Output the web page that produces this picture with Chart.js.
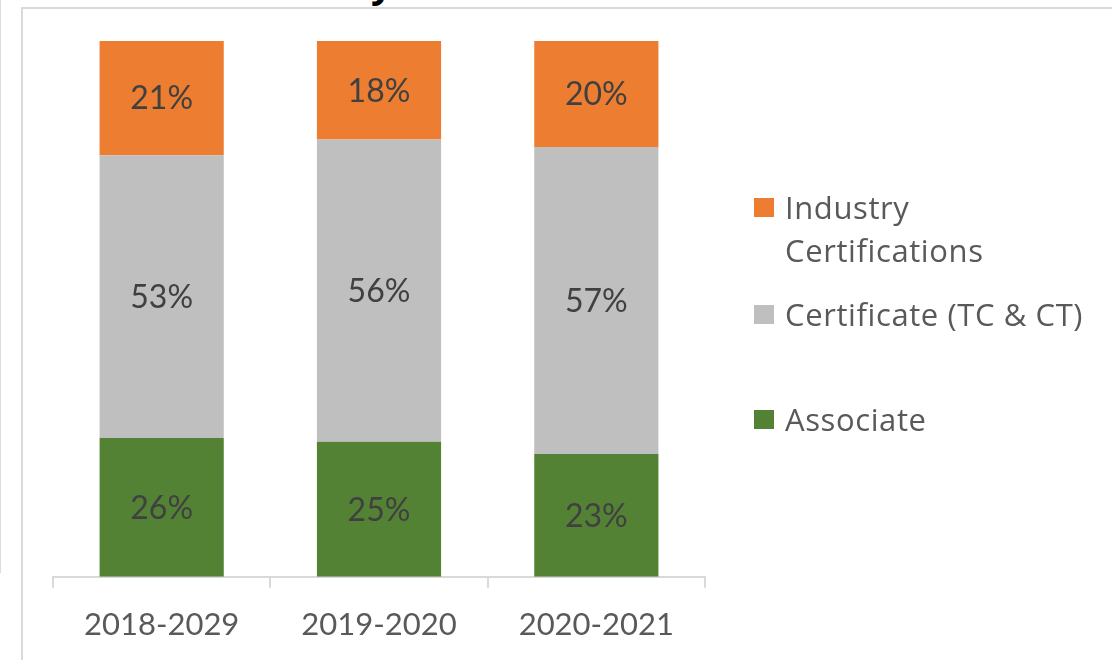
<!DOCTYPE html>
<html>
<head>
<meta charset="utf-8">
<script src="https://cdn.jsdelivr.net/npm/chart.js@4.4.1/dist/chart.umd.min.js"></script>
<style>
  html, body { margin: 0; padding: 0; background: #fff; }
  body { width: 1112px; height: 660px; position: relative; overflow: hidden; font-family: Lato, "Open Sans", sans-serif; }
  #leftline { position: absolute; left: 0; top: 0; width: 1px; height: 573px; background: #dcdcdc; }
  #frame { position: absolute; left: 21px; top: 7px; width: 1200px; height: 800px; border: 2px solid #d9d9d9; box-sizing: border-box; }
  #titlefrag { position: absolute; left: 371px; top: -44px; font: bold 38px "Open Sans", sans-serif; color: #000; }
  #wrap { position: absolute; left: 0; top: 0; width: 1112px; height: 665px; }
  .leg { position: absolute; left: 754px; color: #595959; font-family: "Open Sans", sans-serif; font-size: 31px; letter-spacing: 0.6px; line-height: 43px; }
  .leg .box { position: absolute; left: 0; width: 20px; height: 19px; }
  .leg .txt { position: absolute; left: 31px; white-space: nowrap; }
</style>
</head>
<body>
<div id="leftline"></div>
<div id="frame"></div>
<div id="titlefrag">y</div>
<div id="wrap"><canvas id="c" width="1112" height="665"></canvas></div>
<div id="legend"></div>
<script>
const categories = ["2018-2029", "2019-2020", "2020-2021"];
const seriesNames = ["Associate", "Certificate (TC & CT)", "Industry Certifications"];
const associate = [25.9, 25.2, 22.9];
const certificate = [52.8, 56.4, 57.3];
const industry = [21.3, 18.4, 19.8];
const colors = ["#548235", "#BFBFBF", "#ED7D31"];

const labelPlugin = {
  id: 'segLabels',
  afterDatasetsDraw(chart) {
    const ctx = chart.ctx;
    ctx.save();
    ctx.font = '32px Lato, "Open Sans", sans-serif';
    ctx.fillStyle = '#404040';
    ctx.textAlign = 'center';
    ctx.textBaseline = 'middle';
    chart.data.datasets.forEach((ds, i) => {
      chart.getDatasetMeta(i).data.forEach((bar, j) => {
        const y = (bar.y + bar.base) / 2 + 1;
        ctx.fillText(Math.round(ds.data[j]) + '%', bar.x, y);
      });
    });
    ctx.restore();
  }
};

new Chart(document.getElementById('c'), {
  type: 'bar',
  data: {
    labels: categories,
    datasets: [
      { label: seriesNames[0], data: associate, backgroundColor: colors[0] },
      { label: seriesNames[1], data: certificate, backgroundColor: colors[1] },
      { label: seriesNames[2], data: industry, backgroundColor: colors[2] }
    ]
  },
  options: {
    responsive: false,
    animation: false,
    devicePixelRatio: 1,
    layout: { padding: { left: 53, top: 41, right: 407, bottom: 2 } },
    datasets: { bar: { categoryPercentage: 1, barPercentage: 0.5714 } },
    plugins: { legend: { display: false }, tooltip: { enabled: false } },
    scales: {
      x: {
        stacked: true,
        offset: true,
        grid: { offset: true, drawOnChartArea: false, drawTicks: true, tickLength: 11, color: '#d9d9d9', lineWidth: 2 },
        border: { display: true, color: '#d9d9d9', width: 2 },
        ticks: { color: '#595959', font: { family: 'Lato, "Open Sans", sans-serif', size: 31 }, padding: 19 }
      },
      y: { stacked: true, display: false, min: 0, max: 100 }
    }
  },
  plugins: [labelPlugin]
});

// HTML legend, order as in reference (top series first)
const legendItems = [
  { name: seriesNames[2], color: colors[2], top: 186, lines: ["Industry", "Certifications"] },
  { name: seriesNames[1], color: colors[1], top: 293, lines: [seriesNames[1]] },
  { name: seriesNames[0], color: colors[0], top: 398, lines: [seriesNames[0]] }
];
const legEl = document.getElementById('legend');
legendItems.forEach(it => {
  const d = document.createElement('div');
  d.className = 'leg';
  d.style.top = it.top + 'px';
  const b = document.createElement('div');
  b.className = 'box';
  b.style.background = it.color;
  b.style.top = '12px';
  const t = document.createElement('div');
  t.className = 'txt';
  t.innerHTML = it.lines.join('<br>');
  d.appendChild(b); d.appendChild(t);
  legEl.appendChild(d);
});
</script>
</body>
</html>
